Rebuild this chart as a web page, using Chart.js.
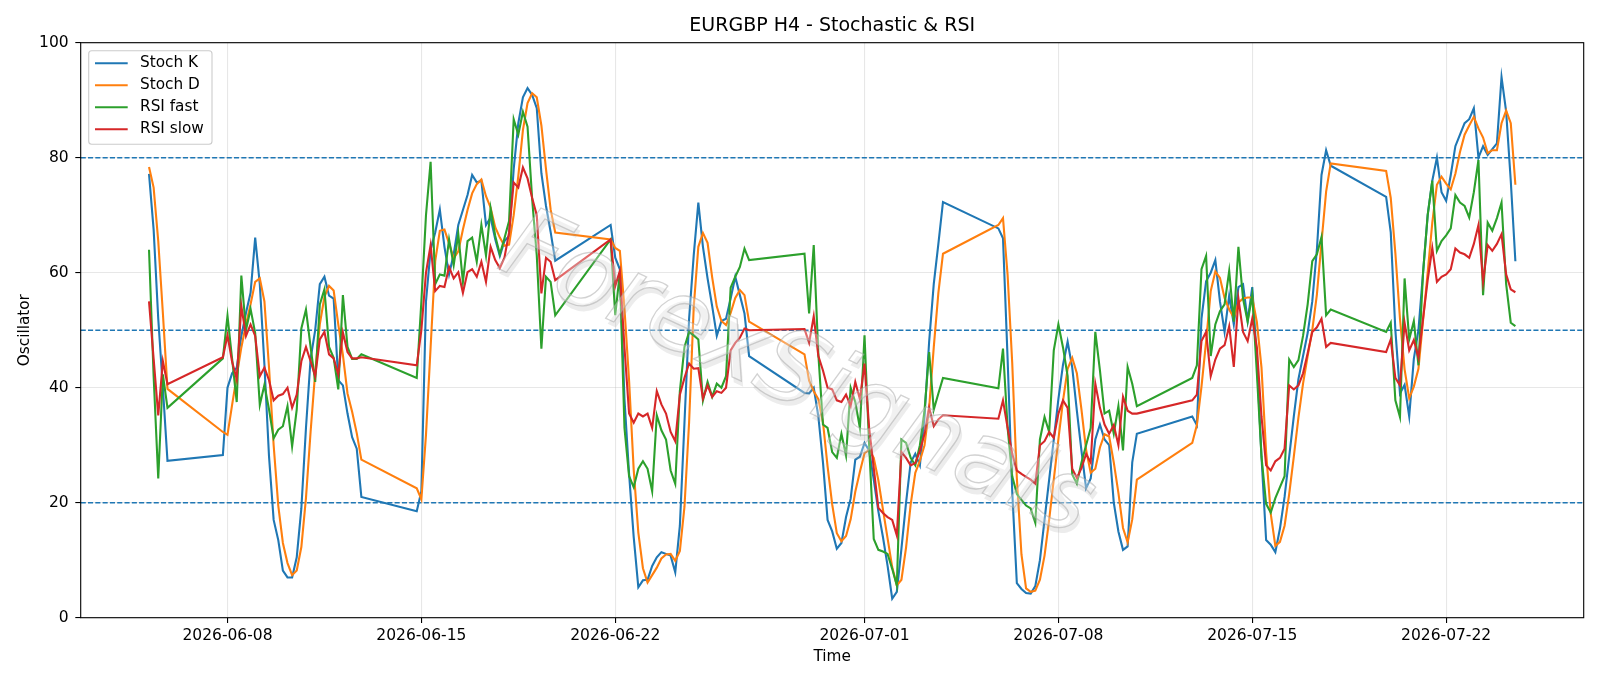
<!DOCTYPE html>
<html lang="en">
<head>
<meta charset="UTF-8">
<title>EURGBP H4 - Stochastic & RSI</title>
<script src="https://cdn.jsdelivr.net/npm/chart.js"></script>
<style>
    html, body { margin: 0; padding: 0; background: #fff; }
    #wrap { width: 1600px; height: 686px; }
</style>
</head>
<body>
<div id="wrap"><canvas id="grafico" width="1600" height="686"></canvas></div>
<script>
// each trading week: first 4h bar and number of bars
const sessionStarts = ['2026-06-05T04:00', '2026-06-07T20:00', '2026-06-14T20:00', '2026-06-21T20:00',
                       '2026-06-28T20:00', '2026-07-05T20:00', '2026-07-12T20:00', '2026-07-19T20:00'];
const sessionBars = [5, 31, 31, 31, 31, 31, 31, 29];

const stochK = [
    77.2, 67.5, 52.0, 40.0, 27.3,
    28.3, 40.0, 42.5, 43.5, 49.0, 53.0, 56.5, 66.1, 58.0, 44.0, 28.0, 17.0, 13.5, 8.2, 7.0, 7.0, 10.5, 19.0, 33.0, 45.0, 50.0, 58.0, 59.3, 56.0, 55.5, 41.3, 40.4, 35.5, 31.4, 29.4, 21.0,
    18.5, 22.0, 55.0, 64.0, 67.0, 71.0, 64.5, 59.7, 63.2, 68.3, 70.9, 73.5, 77.0, 75.7, 76.0, 68.3, 69.6, 65.8, 62.9, 65.5, 66.4, 78.0, 86.0, 90.5, 92.1, 90.9, 88.6, 77.3, 71.6, 67.1, 62.1,
    68.3, 62.6, 60.6, 38.0, 25.0, 14.0, 5.3, 6.5, 6.6, 9.0, 10.5, 11.4, 11.1, 10.8, 7.9, 16.0, 34.0, 52.0, 63.0, 72.2, 64.5, 59.0, 54.2, 49.0, 51.6, 52.0, 55.5, 59.3, 56.1, 52.9, 45.5,
    39.1, 39.0, 40.0, 35.0, 27.0, 17.0, 15.0, 12.0, 13.0, 17.5, 20.7, 27.5, 28.0, 30.4, 29.1, 24.0, 18.5, 14.0, 9.0, 3.3, 4.5, 12.0, 20.0, 27.0, 28.5, 26.5, 35.0, 48.0, 58.0, 65.0, 72.3,
    67.7, 66.0, 45.0, 22.0, 6.0, 5.0, 4.3, 4.2, 5.5, 10.0, 17.0, 24.0, 31.0, 38.0, 44.0, 48.0, 43.5, 36.0, 29.0, 22.5, 24.2, 31.0, 33.6, 31.0, 30.0, 20.0, 15.0, 11.8, 12.4, 27.0, 32.0,
    35.0, 33.5, 52.0, 58.5, 60.0, 62.2, 55.0, 49.7, 56.0, 51.0, 57.5, 58.0, 51.6, 57.5, 45.0, 28.0, 13.5, 12.7, 11.4, 15.5, 21.0, 28.0, 35.0, 41.5, 45.5, 49.5, 55.0, 64.0, 77.0, 81.3, 78.6,
    73.2, 67.0, 50.0, 39.0, 40.5, 35.0, 45.0, 50.0, 60.0, 70.0, 76.0, 80.0, 74.0, 72.5, 77.0, 82.0, 84.0, 86.0, 86.7, 88.6, 80.0, 82.0, 80.5, 81.5, 82.5, 94.0, 88.0, 76.0, 62.0
];
const stochD = [
    78.4, 74.8, 65.5, 53.0, 39.8,
    32.3, 31.8, 37.0, 42.0, 47.0, 51.0, 54.5, 58.4, 59.0, 55.0, 43.5, 30.0, 19.5, 13.0, 9.5, 7.4, 8.2, 12.3, 20.8, 32.3, 42.7, 51.0, 55.8, 57.7, 56.9, 51.0, 45.7, 39.0, 35.8, 32.1, 27.5,
    22.5, 20.6, 31.8, 47.0, 62.0, 67.3, 67.5, 65.1, 62.5, 63.7, 67.5, 70.9, 73.8, 75.4, 76.2, 73.3, 71.3, 67.9, 66.1, 64.7, 64.9, 70.0, 76.8, 84.8, 89.5, 91.2, 90.5, 85.6, 78.0, 71.0, 67.0,
    65.8, 64.3, 63.8, 53.7, 41.2, 25.7, 14.8, 8.6, 6.1, 7.4, 8.7, 10.3, 11.0, 11.1, 9.9, 11.6, 19.3, 34.0, 54.0, 64.5, 66.9, 65.2, 59.2, 54.1, 51.6, 50.9, 53.0, 55.6, 57.0, 56.1, 51.5,
    45.8, 41.2, 39.4, 38.0, 34.0, 26.3, 19.7, 14.7, 13.3, 14.2, 17.1, 21.9, 25.4, 28.6, 29.2, 27.8, 23.9, 18.8, 13.8, 8.8, 5.6, 6.6, 12.2, 19.7, 25.2, 27.3, 30.0, 36.5, 47.0, 56.5, 63.3,
    68.3, 69.5, 59.6, 44.3, 24.3, 11.0, 5.1, 4.5, 4.7, 6.6, 10.8, 17.0, 24.0, 31.0, 37.7, 43.3, 45.2, 42.5, 36.2, 29.2, 25.2, 25.9, 29.6, 31.9, 31.5, 27.0, 21.7, 15.6, 13.1, 17.1, 24.0,
    30.4, 33.5, 40.2, 48.0, 56.8, 60.2, 59.1, 55.6, 53.6, 52.2, 54.8, 55.5, 55.7, 55.7, 51.4, 43.5, 28.8, 18.1, 12.5, 13.2, 16.0, 21.5, 28.0, 34.8, 40.7, 45.5, 50.0, 56.2, 65.3, 74.1, 79.0,
    77.7, 73.0, 63.4, 52.0, 43.2, 38.2, 40.2, 43.3, 51.7, 60.0, 68.7, 75.3, 76.7, 75.5, 74.5, 77.2, 81.0, 84.0, 85.6, 87.1, 85.1, 83.5, 80.8, 81.3, 81.3, 86.0, 88.2, 86.0, 75.3
];
const rsiFast = [
    64.0, 42.0, 24.2, 42.3, 36.5,
    45.1, 52.5, 45.0, 37.5, 59.5, 50.0, 53.7, 49.5, 37.0, 40.5, 36.2, 31.2, 32.7, 33.3, 36.8, 29.8, 36.2, 50.3, 53.6, 47.1, 41.0, 54.5, 57.1, 47.1, 45.2, 39.7, 56.1, 47.1, 45.0, 45.0, 45.8,
    41.7, 55.0, 70.0, 79.3, 58.0, 59.7, 59.5, 65.8, 61.3, 66.7, 58.4, 65.5, 66.1, 61.9, 68.3, 63.0, 71.2, 66.4, 63.2, 66.0, 69.0, 86.7, 84.0, 88.0, 85.4, 72.8, 63.0, 46.8, 59.3, 58.4, 52.6,
    65.8, 52.6, 60.0, 33.0, 24.6, 22.7, 25.9, 27.2, 25.9, 22.0, 35.2, 32.6, 31.0, 25.6, 23.3, 39.4, 47.1, 49.7, 49.1, 48.4, 37.8, 41.0, 38.4, 40.7, 40.0, 42.0, 57.4, 59.3, 61.0, 64.2, 62.2,
    63.3, 52.9, 64.8, 45.8, 33.6, 33.0, 28.8, 27.8, 32.0, 28.2, 40.0, 37.5, 33.0, 49.1, 30.0, 13.7, 11.8, 11.5, 11.1, 8.5, 5.6, 31.0, 30.4, 27.8, 26.5, 30.0, 36.0, 46.2, 36.2, 39.0, 41.7,
    39.9, 46.8, 33.0, 24.6, 21.5, 20.5, 19.5, 19.0, 16.5, 31.0, 34.9, 32.3, 46.5, 51.0, 47.0, 42.0, 24.9, 23.3, 27.0, 30.0, 33.0, 49.7, 43.0, 35.5, 36.0, 32.0, 36.8, 29.1, 43.6, 40.7, 36.8,
    41.7, 43.9, 60.6, 62.9, 45.5, 51.0, 53.3, 54.5, 60.3, 51.5, 64.5, 55.5, 51.5, 56.1, 42.5, 28.0, 19.8, 18.3, 20.8, 22.7, 24.6, 44.9, 43.6, 44.8, 49.0, 54.5, 62.0, 63.2, 66.2, 52.6, 53.6,
    49.7, 51.3, 37.8, 34.9, 59.0, 48.4, 51.6, 43.9, 60.0, 70.0, 76.0, 63.8, 65.5, 66.5, 67.7, 73.5, 72.2, 71.6, 69.6, 74.0, 79.6, 56.1, 68.7, 67.3, 69.5, 72.2, 58.0, 51.3, 50.7
];
const rsiSlow = [
    55.0, 45.0, 35.2, 44.6, 40.6,
    45.3, 49.1, 44.5, 41.5, 54.2, 49.0, 51.0, 49.0, 42.0, 43.5, 41.3, 37.8, 38.6, 38.9, 40.0, 36.5, 38.8, 44.6, 47.1, 44.6, 42.0, 48.4, 49.7, 45.8, 45.1, 42.3, 49.6, 46.2, 45.1, 45.1, 45.3,
    43.9, 50.0, 60.0, 64.8, 56.8, 57.7, 57.5, 61.0, 59.0, 60.1, 56.5, 60.1, 60.6, 59.3, 61.9, 58.4, 64.5, 62.2, 60.8, 62.6, 67.0, 75.7, 74.8, 78.3, 76.4, 73.0, 70.0, 56.4, 62.6, 61.9, 58.7,
    65.8, 57.7, 60.3, 47.0, 35.5, 33.9, 35.5, 35.0, 35.5, 33.0, 39.4, 37.1, 35.5, 32.3, 30.7, 38.8, 41.7, 44.2, 43.3, 43.4, 38.1, 40.4, 38.4, 39.4, 39.1, 40.0, 46.5, 47.8, 48.7, 50.3, 50.0,
    50.2, 47.8, 52.4, 45.5, 43.0, 40.0, 39.7, 37.8, 37.5, 38.8, 36.8, 41.0, 38.0, 44.2, 33.0, 26.0, 19.1, 18.2, 17.5, 17.0, 14.3, 28.8, 27.8, 26.5, 26.9, 29.0, 32.0, 36.5, 33.3, 34.5, 35.2,
    34.6, 37.8, 33.0, 28.5, 25.6, 25.0, 24.5, 24.0, 23.3, 30.0, 30.7, 32.3, 31.3, 35.5, 37.8, 36.5, 25.9, 24.3, 26.0, 28.5, 27.0, 40.7, 36.5, 33.6, 32.0, 33.5, 30.0, 38.4, 36.0, 35.5, 35.5,
    37.8, 38.8, 48.1, 49.7, 42.0, 44.9, 46.8, 47.4, 50.7, 43.6, 55.5, 49.7, 48.1, 52.0, 47.0, 35.0, 26.5, 25.6, 27.2, 27.8, 29.4, 40.4, 39.7, 40.4, 42.5, 46.0, 49.7, 50.5, 52.0, 47.1, 47.8,
    46.2, 48.4, 41.7, 40.4, 51.3, 46.5, 48.3, 45.2, 52.0, 58.7, 64.3, 58.4, 59.3, 59.7, 60.6, 64.2, 63.5, 63.2, 62.6, 65.0, 68.3, 58.4, 64.8, 63.8, 65.0, 66.7, 59.7, 57.1, 56.6
];

const refLevels = [20, 50, 80];
const tickDates = ['2026-06-08', '2026-06-15', '2026-06-22', '2026-07-01', '2026-07-08', '2026-07-15', '2026-07-22'];
const seriesNames = ['Stoch K', 'Stoch D', 'RSI fast', 'RSI slow'];
const seriesColors = ['#1f77b4', '#ff7f0e', '#2ca02c', '#d62728'];
const titleText = 'EURGBP H4 - Stochastic & RSI';
const watermarkText = 'ForexSignals';

// bar times
const times = [];
sessionStarts.forEach((s, k) => {
    const t0 = Date.parse(s + ':00Z');
    for (let i = 0; i < sessionBars[k]; i++) times.push(t0 + i * 4 * 3600e3);
});
const span = times[times.length - 1] - times[0];
const xMin = times[0] - span * 0.05;
const xMax = times[times.length - 1] + span * 0.05;

const AREA = { left: 80.7, top: 42.7, right: 1583.7, bottom: 617.7 };
const FONT = 'DejaVu Sans';

const series = [stochK, stochD, rsiFast, rsiSlow];
const datasets = series.map((arr, k) => ({
    label: seriesNames[k],
    data: times.map((t, i) => ({ x: t, y: arr[i] })),
    borderColor: seriesColors[k],
    borderWidth: 2.1,
    pointRadius: 0,
    tension: 0,
    fill: false,
    order: 4 - k
}));

const decor = {
    id: 'decor',
    beforeDatasetsDraw(chart) {
        const ctx = chart.ctx, y = chart.scales.y;
        ctx.save();
        ctx.strokeStyle = '#1f77b4';
        ctx.lineWidth = 1.4;
        ctx.setLineDash([5.1, 2.2]);
        refLevels.forEach(v => {
            const py = y.getPixelForValue(v);
            ctx.beginPath();
            ctx.moveTo(AREA.left, py);
            ctx.lineTo(AREA.right, py);
            ctx.stroke();
        });
        ctx.restore();
    },
    afterDatasetsDraw(chart) {
        const ctx = chart.ctx;
        // watermark, light and semi transparent
        ctx.save();
        ctx.translate(796, 378);
        ctx.rotate(24.9 * Math.PI / 180);
        ctx.font = 'italic 300 100px "' + FONT + '"';
        ctx.textAlign = 'center';
        ctx.textBaseline = 'middle';
        ctx.fillStyle = 'rgba(170,170,170,0.22)';
        ctx.fillText(watermarkText, 4, 4);
        ctx.fillStyle = 'rgba(255,255,255,0.3)';
        ctx.fillText(watermarkText, 0, 0);
        ctx.strokeStyle = 'rgba(165,165,165,0.5)';
        ctx.lineWidth = 1.3;
        ctx.strokeText(watermarkText, 0, 0);
        ctx.restore();
    },
    afterDraw(chart) {
        const ctx = chart.ctx;
        ctx.save();
        // frame
        ctx.strokeStyle = '#000';
        ctx.lineWidth = 1.1;
        ctx.strokeRect(AREA.left, AREA.top, AREA.right - AREA.left, AREA.bottom - AREA.top);
        // title and axis labels
        ctx.fillStyle = '#000';
        ctx.textAlign = 'center';
        ctx.textBaseline = 'middle';
        ctx.font = '19px "' + FONT + '"';
        ctx.fillText(titleText, (AREA.left + AREA.right) / 2, 26.5);
        ctx.font = '15.3px "' + FONT + '"';
        ctx.fillText('Time', (AREA.left + AREA.right) / 2, 657.5);
        ctx.save();
        ctx.translate(25.5, (AREA.top + AREA.bottom) / 2);
        ctx.rotate(-Math.PI / 2);
        ctx.fillText('Oscillator', 0, 0);
        ctx.restore();
        // legend
        const bx = 88.7, by = 50.7, bw = 123.3, bh = 93.6;
        ctx.beginPath();
        ctx.roundRect(bx, by, bw, bh, 3);
        ctx.fillStyle = 'rgba(255,255,255,0.8)';
        ctx.fill();
        ctx.strokeStyle = '#cccccc';
        ctx.lineWidth = 1.1;
        ctx.stroke();
        ctx.textAlign = 'left';
        seriesNames.forEach((name, k) => {
            const ly = 63.3 + k * 22;
            ctx.strokeStyle = seriesColors[k];
            ctx.lineWidth = 2.1;
            ctx.beginPath();
            ctx.moveTo(95, ly);
            ctx.lineTo(127.7, ly);
            ctx.stroke();
            ctx.fillStyle = '#000';
            ctx.fillText(name, 140, ly);
        });
        ctx.restore();
    }
};

const gridColor = 'rgba(176,176,176,0.3)';
new Chart(document.getElementById('grafico').getContext('2d'), {
    type: 'line',
    data: { datasets: datasets },
    options: {
        responsive: false,
        animation: false,
        devicePixelRatio: 1,
        layout: { padding: { left: 0, top: AREA.top, right: 1600 - AREA.right, bottom: 0 } },
        plugins: { legend: { display: false }, tooltip: { enabled: false }, title: { display: false } },
        scales: {
            x: {
                type: 'linear',
                min: xMin,
                max: xMax,
                afterFit: s => { s.height = 686 - AREA.bottom; },
                afterBuildTicks: s => { s.ticks = tickDates.map(d => ({ value: Date.parse(d + 'T00:00:00Z') })); },
                ticks: {
                    callback: v => new Date(v).toISOString().slice(0, 10),
                    maxRotation: 0, autoSkip: false, padding: 3.5,
                    color: '#000', font: { family: FONT, size: 15.5 }
                },
                grid: { color: gridColor, lineWidth: 1.1, tickColor: '#000', tickLength: 5.4, tickWidth: 1.1 },
                border: { display: false }
            },
            y: {
                min: 0,
                max: 100,
                afterFit: s => { s.width = AREA.left; },
                ticks: { stepSize: 20, padding: 6.6, color: '#000', font: { family: FONT, size: 15.5 } },
                grid: { color: gridColor, lineWidth: 1.1, tickColor: '#000', tickLength: 5.4, tickWidth: 1.1 },
                border: { display: false }
            }
        }
    },
    plugins: [decor]
});
</script>
</body>
</html>
